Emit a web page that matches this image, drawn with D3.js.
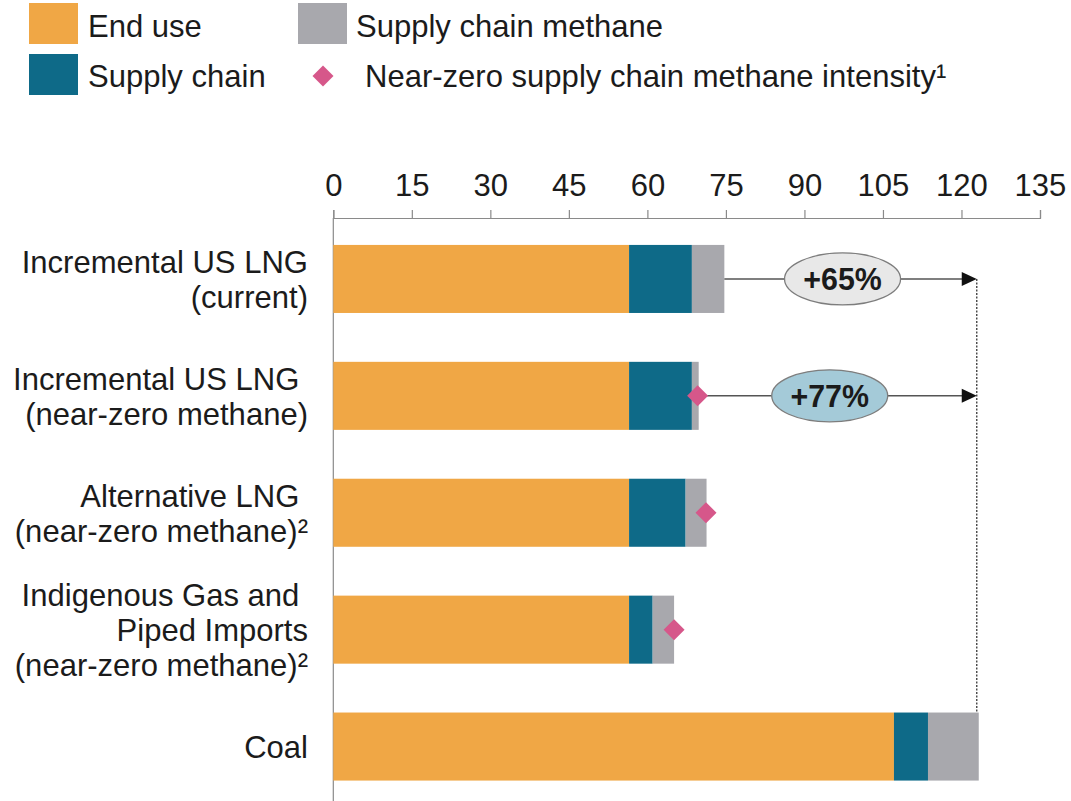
<!DOCTYPE html>
<html>
<head>
<meta charset="utf-8">
<script src="https://cdn.jsdelivr.net/npm/d3@7"></script>
<style>
  html, body { margin: 0; padding: 0; background: #ffffff; }
  svg { display: block; font-family: "Liberation Sans", Arial, Helvetica, sans-serif; }
</style>
</head>
<body>
<svg id="chart" width="1071" height="801"></svg>
<script>
// ---------------- data ----------------
const categories = [
  "Incremental US LNG\n(current)",
  "Incremental US LNG \n(near-zero methane)",
  "Alternative LNG \n(near-zero methane)²",
  "Indigenous Gas and \nPiped Imports\n(near-zero methane)²",
  "Coal"
];
const endUse             = [56.5, 56.5, 56.5, 56.5, 107.1];
const supplyChain        = [12.0, 12.0, 10.8, 4.5, 6.5];
const supplyChainMethane = [6.2, 1.3, 4.0, 4.1, 9.7];
const nearZeroIntensity  = [null, 69.6, 71.2, 65.1, null];
const increaseLabels     = ["+65%", "+77%", null, null, null];
const xTicks = [0, 15, 30, 45, 60, 75, 90, 105, 120, 135];
const seriesNames = ["End use", "Supply chain", "Supply chain methane"];
const markerName = "Near-zero supply chain methane intensity¹";

// ---------------- style ----------------
const colors = { "End use": "#F0A745", "Supply chain": "#0E6A88", "Supply chain methane": "#A8A8AD" };
const pink = "#D6578A";
const textColor = "#1b1b1b";
const FS = 32, SX = 0.97;

const svg = d3.select("#chart");

function txt(parent, x, y, str, opts = {}) {
  const g = parent.append("g")
    .attr("transform", `translate(${x},${y}) scale(${opts.sx || SX},1)`);
  g.append("text")
    .attr("text-anchor", opts.anchor || "start")
    .attr("font-size", opts.size || FS)
    .attr("font-weight", opts.weight || "normal")
    .attr("fill", opts.fill || textColor)
    .style("white-space", "pre")
    .text(str);
  return g;
}

// ---------------- scales ----------------
const x = d3.scaleLinear().domain([0, 135]).range([333.3, 1040]);
const y = d3.scaleBand().domain(categories).range([220.5, 805]).paddingInner(0.418).paddingOuter(0.209);

const rows = categories.map((c, i) => {
  const a = endUse[i], b = a + supplyChain[i], t = b + supplyChainMethane[i];
  return { cat: c, i, segs: [
    { name: "End use", x0: 0, x1: a },
    { name: "Supply chain", x0: a, x1: b },
    { name: "Supply chain methane", x0: b, x1: t }
  ], total: t, marker: nearZeroIntensity[i], label: increaseLabels[i] };
});
const coalTotal = rows[rows.length - 1].total;

// ---------------- axis ----------------
const axisY = 218;
const axis = d3.axisTop(x).tickValues(xTicks).tickSize(8).tickPadding(14).tickFormat(d3.format("d"));
const ag = svg.append("g").attr("transform", `translate(0,${axisY})`).call(axis);
ag.select(".domain").attr("stroke", "#8a8a8a").attr("stroke-width", 1.2);
ag.selectAll(".tick line").attr("stroke", "#8a8a8a").attr("stroke-width", 1.2);
ag.selectAll(".tick text")
  .attr("font-size", FS).attr("fill", textColor)
  .attr("font-family", '"Liberation Sans", Arial, sans-serif')
  .attr("transform", `scale(${SX},1)`);

// left vertical axis line
svg.append("line")
  .attr("x1", x(0)).attr("x2", x(0))
  .attr("y1", axisY).attr("y2", 801)
  .attr("stroke", "#8a8a8a").attr("stroke-width", 1.2);

// ---------------- bars ----------------
const barG = svg.append("g");
rows.forEach(r => {
  barG.selectAll(null).data(r.segs).enter().append("rect")
    .attr("x", d => x(d.x0))
    .attr("width", d => x(d.x1) - x(d.x0))
    .attr("y", y(r.cat))
    .attr("height", y.bandwidth())
    .attr("fill", d => colors[d.name]);
});

// ---------------- category labels ----------------
const lineH = 35;
rows.forEach(r => {
  const lines = r.cat.split("\n");
  const cy = y(r.cat) + y.bandwidth() / 2;
  const n = lines.length;
  lines.forEach((ln, k) => {
    const baseline = cy + (k - (n - 1) / 2) * lineH + FS * 0.36;
    txt(svg, 308, baseline, ln, { anchor: "end" });
  });
});

// ---------------- comparison arrows ----------------
const coalX = x(coalTotal) - 2;
const firstArrowY = y(rows[0].cat) + y.bandwidth() / 2;
svg.append("line")
  .attr("x1", coalX).attr("x2", coalX)
  .attr("y1", firstArrowY).attr("y2", y(rows[rows.length - 1].cat))
  .attr("stroke", "#444").attr("stroke-width", 1.4).attr("stroke-dasharray", "2,1.5");

const ellipseFills = ["#E8E8E8", "#A4CAD8"];
rows.filter(r => r.label).forEach((r, j) => {
  const cy = y(r.cat) + y.bandwidth() / 2;
  const start = r.marker != null ? x(r.marker) : x(r.total);
  svg.append("line")
    .attr("x1", start).attr("x2", coalX - 14)
    .attr("y1", cy).attr("y2", cy)
    .attr("stroke", "#555").attr("stroke-width", 1.5);
  svg.append("path")
    .attr("d", `M${coalX - 15},${cy - 7} L${coalX},${cy} L${coalX - 15},${cy + 7} Z`)
    .attr("fill", "#111");
  const ex = (x(r.total) + coalX) / 2 - 8;
  svg.append("ellipse")
    .attr("cx", ex).attr("cy", cy).attr("rx", 58).attr("ry", 26)
    .attr("fill", ellipseFills[j]).attr("stroke", "#7d7d7d").attr("stroke-width", 1.3);
  txt(svg, ex, cy + 11, r.label, { anchor: "middle", weight: "bold", size: 32, sx: 0.95 });
});

// ---------------- near-zero markers ----------------
const diamond = d3.symbol().type(d3.symbolSquare).size(220);
rows.filter(r => r.marker != null).forEach(r => {
  const cy = y(r.cat) + y.bandwidth() / 2;
  svg.append("path")
    .attr("d", diamond())
    .attr("transform", `translate(${x(r.marker)},${cy}) rotate(45)`)
    .attr("fill", pink);
});

// ---------------- legend ----------------
const lg = svg.append("g");
const legendItems = [
  { name: seriesNames[0], rx: 29, ry: 3, tx: 88, ty: 37 },
  { name: seriesNames[2], rx: 298, ry: 3, tx: 356, ty: 37 },
  { name: seriesNames[1], rx: 29, ry: 54, tx: 88, ty: 87 }
];
legendItems.forEach(d => {
  lg.append("rect").attr("x", d.rx).attr("y", d.ry).attr("width", 49).attr("height", 41)
    .attr("fill", colors[d.name]);
  txt(lg, d.tx, d.ty, d.name);
});
lg.append("path").attr("d", diamond()).attr("transform", "translate(323,76) rotate(45)").attr("fill", pink);
txt(lg, 365, 87, markerName);
</script>
</body>
</html>
